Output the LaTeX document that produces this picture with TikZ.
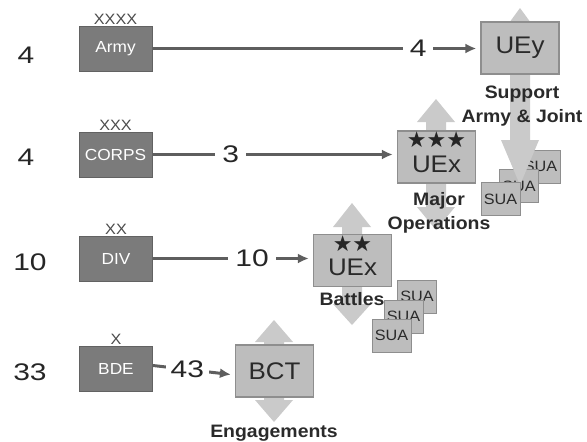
\documentclass[tikz,border=0pt]{standalone}
\usepackage{fontspec}
\setmainfont{Liberation Sans}[FakeStretch=1.08]
\newfontfamily\numfont{Liberation Sans}[FakeStretch=1.25]
\newfontfamily\starfont{DejaVu Sans}
\usetikzlibrary{arrows.meta}

\definecolor{darkbox}{HTML}{7B7B7B}
\definecolor{darkedge}{HTML}{626262}
\definecolor{lightbox}{HTML}{BDBDBD}
\definecolor{lightedge}{HTML}{8E8E8E}
\definecolor{arrowgray}{HTML}{CACACA}
\definecolor{linegray}{HTML}{5E5E5E}
\definecolor{textdark}{HTML}{2A2A2A}

\begin{document}
\begin{tikzpicture}[
  x=1pt, y=-1pt,
  echelon/.style={draw=darkedge, fill=darkbox, line width=1pt, minimum width=73pt,
    minimum height=45pt, text=white, font=\fontsize{16}{16}\selectfont},
  bigbox/.style={draw=lightedge, fill=lightbox, line width=1.2pt, minimum width=78pt,
    minimum height=52pt, text=textdark, font=\fontsize{24}{24}\selectfont},
  sua/.style={draw=lightedge, fill=lightbox, line width=0.8pt, minimum width=39pt,
    minimum height=33pt, inner sep=0pt, text=textdark, font=\fontsize{15}{15}\selectfont},
  marking/.style={anchor=base, inner sep=0pt, text=black!70, font=\fontsize{15}{15}\selectfont},
  count/.style={text=black!85, font=\numfont\fontsize{24}{24}\selectfont},
  numlbl/.style={fill=white, inner xsep=7pt, inner ysep=1pt, text=black!85,
    font=\numfont\fontsize{24}{24}\selectfont},
  conn/.style={line width=3pt, linegray, -{Latex[length=11pt,width=10pt]}, shorten >=4pt},
  stars/.style={inner sep=0pt, text=black!85, font=\starfont\fontsize{22}{22}\selectfont},
  uextext/.style={inner sep=0pt, text=textdark, font=\fontsize{24}{24}\selectfont},
  role/.style={align=center, text=textdark, font=\bfseries\fontsize{18}{24}\selectfont},
  bigarrow/.style={fill=arrowgray},
]
\useasboundingbox (0,0) rectangle (587,442);

\foreach \i/\x/\y in {1/540.5/166.5, 2/519/186}
  \node (suay\i) [sua] at (\x,\y) {SUA};

\foreach \ax/\tipa/\tipb/\heada/\headb in {520/8/185/26/45, 436/99/230/23/23, 352/203/325/24/21, 274/320/422/22/22}
  \fill[bigarrow] (\ax,\tipa) -- (\ax+19,\tipa+\heada) -- (\ax+10,\tipa+\heada)
    -- (\ax+10,\tipb-\headb) -- (\ax+19,\tipb-\headb) -- (\ax,\tipb)
    -- (\ax-19,\tipb-\headb) -- (\ax-10,\tipb-\headb) -- (\ax-10,\tipa+\heada)
    -- (\ax-19,\tipa+\heada) -- cycle;

\node (suay3) [sua] at (500.5,199) {SUA};
\foreach \i/\x/\y in {1/417/296.5, 2/403.5/316.5, 3/391.5/335.5}
  \node (suax\i) [sua] at (\x,\y) {SUA};

\node (army) [echelon] at (115.5,48.5) {Army};
\node (corps) [echelon] at (115.5,154.5) {CORPS};
\node (div) [echelon] at (116,258.5) {DIV};
\node (bde) [echelon] at (116,368.5) {BDE};

\node (armymark) [marking] at ([yshift=1pt]army.north) {XXXX};
\node (corpsmark) [marking] at ([yshift=1pt]corps.north) {XXX};
\node (divmark) [marking] at ([yshift=1pt]div.north) {XX};
\node (bdemark) [marking] at ([yshift=1pt]bde.north) {X};

\node (armycount) [count] at (26,55) {4};
\node (corpscount) [count] at (26,157) {4};
\node (divcount) [count] at (30,262) {10};
\node (bdecount) [count] at (30,372) {33};

\node (uey) [bigbox] at (520,48) {UEy};
\node (uexcorps) [bigbox] at (436.5,157) {};
\node (uexdiv) [bigbox] at (352.5,260.5) {};
\node (bct) [bigbox] at (274.5,371) {BCT};

\node (uexcorpstext) [uextext] at ([yshift=-7pt]uexcorps.center) {UEx};
\node (uexdivtext) [uextext] at ([yshift=-7pt]uexdiv.center) {UEx};
\node (uexcorpsstars) [stars] at ([yshift=17pt]uexcorps.center) {★★★};
\node (uexdivstars) [stars] at ([yshift=17pt]uexdiv.center) {★★};

\draw[conn] (army.east) -- node[numlbl, pos=0.81] {4} (army.east -| uey.west);
\draw[conn] (corps.east) -- node[numlbl, pos=0.32] {3} (corps.east -| uexcorps.west);
\draw[conn] (div.east) -- node[numlbl, pos=0.62] {10} (div.east -| uexdiv.west);
\draw[conn] ([yshift=3pt]bde.east) -- node[numlbl, pos=0.42, inner xsep=5pt] {43} ([yshift=-4pt]bct.west);

\node (supportlbl) [role] at (522,106) {Support\\Army \& Joint};
\node (majorlbl) [role] at (439,213) {Major\\Operations};
\node (battleslbl) [role] at (352,299) {Battles};
\node (engagelbl) [role] at (274,433) {Engagements};

\end{tikzpicture}
\end{document}
